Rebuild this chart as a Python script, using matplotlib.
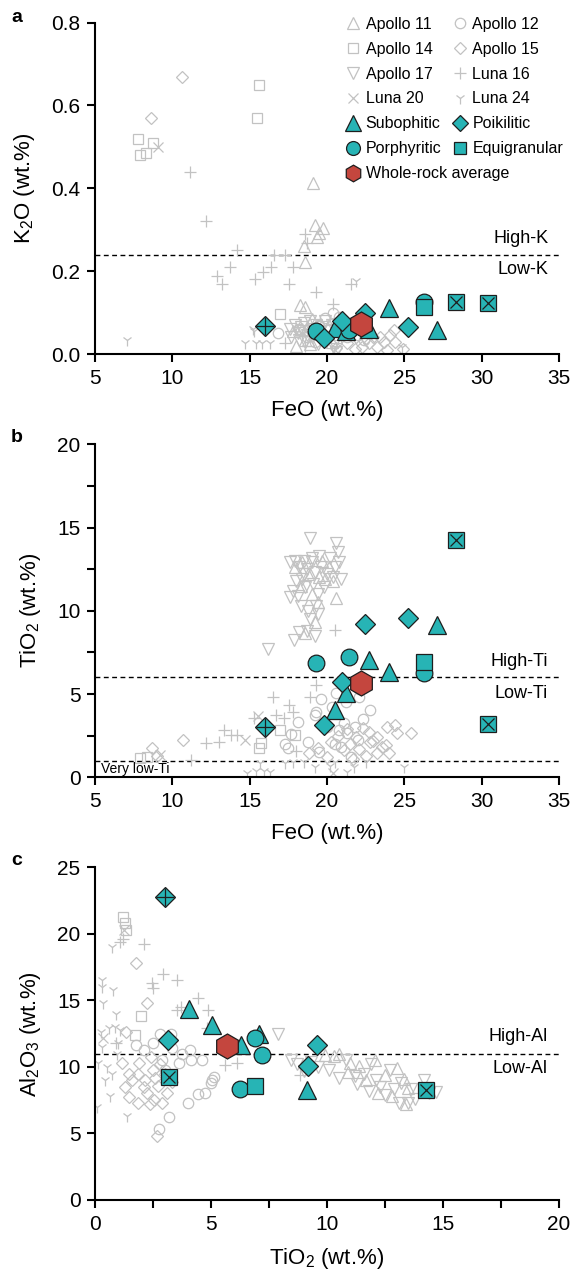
import matplotlib
matplotlib.use('Agg')
import matplotlib.pyplot as plt
from matplotlib.lines import Line2D
from matplotlib.ticker import MultipleLocator

plt.rcParams['font.family'] = ['Liberation Sans', 'DejaVu Sans']
plt.rcParams['mathtext.default'] = 'regular'

# ---------------- literature data (grey) ----------------
# panel a: FeO vs K2O
a_apollo11_feo = [19.1, 19.2, 19.45, 19.75, 19.35, 18.5, 18.6, 18.55, 18.25, 18.0, 18.8, 19.6, 20.1, 18.4, 19.0, 20.6, 17.8, 18.9, 19.3, 20.3]
a_apollo11_k2o = [0.412, 0.312, 0.292, 0.304, 0.282, 0.261, 0.223, 0.113, 0.118, 0.02, 0.035, 0.05, 0.07, 0.06, 0.085, 0.04, 0.055, 0.025, 0.065, 0.03]
a_apollo12_feo = [16.85, 20.4, 19.9, 20.2, 21.0, 21.6, 19.5, 18.7, 20.8, 22.0, 21.3, 19.2, 20.6, 22.4, 18.2]
a_apollo12_k2o = [0.05, 0.100, 0.088, 0.06, 0.072, 0.07, 0.07, 0.04, 0.09, 0.045, 0.04, 0.03, 0.03, 0.035, 0.06]
a_apollo14_feo = [7.75, 8.75, 7.92, 8.3, 15.6, 15.5, 16.95]
a_apollo14_k2o = [0.519, 0.51, 0.481, 0.485, 0.65, 0.569, 0.096]
a_apollo15_feo = [10.6, 8.65, 21.3, 21.9, 22.26, 22.7, 23.0, 23.2, 23.7, 23.9, 24.4, 24.3, 24.1, 22.5, 23.4, 24.9, 21.8, 20.6]
a_apollo15_k2o = [0.67, 0.57, 0.026, 0.042, 0.018, 0.026, 0.042, 0.018, 0.03, 0.01, 0.03, 0.058, 0.045, 0.038, 0.04, 0.012, 0.012, 0.015]
a_apollo17_feo = [17.6, 17.9, 18.1, 18.3, 18.5, 18.7, 18.9, 19.1, 19.3, 19.5, 19.7, 19.9, 20.1, 20.3, 18.2, 18.6, 19.0, 19.4, 19.8, 20.4, 17.7, 18.4, 20.0, 20.6]
a_apollo17_k2o = [0.06, 0.07, 0.05, 0.065, 0.075, 0.045, 0.08, 0.06, 0.07, 0.05, 0.065, 0.08, 0.055, 0.07, 0.035, 0.03, 0.04, 0.025, 0.035, 0.02, 0.04, 0.055, 0.04, 0.005]
a_luna16_feo = [11.13, 12.17, 12.88, 13.23, 13.73, 14.2, 15.35, 15.85, 16.4, 16.6, 17.3, 17.55, 17.8, 18.7, 18.6, 19.3, 20.4, 21.56, 17.3, 18.6]
a_luna16_k2o = [0.44, 0.32, 0.188, 0.169, 0.211, 0.251, 0.18, 0.199, 0.211, 0.239, 0.239, 0.169, 0.211, 0.269, 0.29, 0.15, 0.121, 0.169, 0.026, 0.02]
a_luna20_feo = [9.05, 20.5]
a_luna20_k2o = [0.50, 0.01]
a_luna24_feo = [7.05, 14.67, 15.42, 15.8, 16.3, 15.3, 21.9, 24.86, 15.2]
a_luna24_k2o = [0.035, 0.027, 0.027, 0.027, 0.027, 0.056, 0.177, 0.018, 0.06]

# panel b: FeO vs TiO2
b_apollo11_feo = [20.6, 18.6, 19.2, 19.4, 18.4, 19.7, 20.1, 18.8, 19.9, 19.0, 17.9, 18.3, 19.5, 20.4]
b_apollo11_tio2 = [10.75, 8.65, 9.3, 10.5, 12.9, 13.0, 12.6, 12.2, 11.9, 11.0, 12.6, 11.5, 12.0, 11.8]
b_apollo12_feo = [19.2, 19.6, 20.6, 22.1, 22.1, 22.8, 18.1, 17.5, 17.7, 20.8, 21.3, 21.1, 22.0, 21.55, 19.3, 20.3, 21.2, 20.0, 18.8, 21.8, 22.3, 20.5, 19.5, 17.3, 20.9]
b_apollo12_tio2 = [3.74, 4.68, 5.08, 5.29, 4.85, 4.04, 3.34, 1.74, 2.6, 2.84, 2.64, 3.24, 2.24, 1.2, 3.9, 4.2, 4.5, 3.0, 2.1, 3.0, 3.5, 2.0, 1.5, 2.0, 1.8]
b_apollo14_feo = [7.9, 8.35, 15.6, 15.7, 17.9, 16.96]
b_apollo14_tio2 = [1.14, 1.2, 1.74, 2.04, 2.54, 2.84]
b_apollo15_feo = [8.7, 10.66, 9.0, 18.84, 19.43, 20.26, 21.1, 21.9, 22.3, 22.7, 23.2, 23.56, 23.2, 24.0, 23.9, 24.4, 24.5, 25.4, 23.8, 20.7, 21.5, 22.1, 22.8, 20.0, 21.7, 22.5, 23.0, 21.3]
b_apollo15_tio2 = [1.74, 2.24, 1.3, 1.44, 1.74, 2.14, 1.64, 2.44, 2.94, 2.74, 2.44, 1.84, 1.44, 1.44, 3.04, 3.14, 2.64, 2.64, 1.94, 2.5, 2.0, 1.7, 2.1, 1.2, 1.1, 1.3, 2.2, 2.9]
b_apollo17_feo = [18.9, 20.57, 20.7, 20.8, 20.2, 19.5, 19.0, 18.5, 17.9, 17.6, 18.2, 18.7, 19.2, 19.6, 20.0, 20.4, 20.9, 18.0, 18.4, 17.8, 18.1, 18.6, 19.1, 19.4, 19.8, 17.6, 18.3, 18.8, 19.3, 18.9, 19.4, 18.7, 18.2, 19.2, 17.85, 16.2, 19.0, 20.5, 18.5]
b_apollo17_tio2 = [14.4, 14.1, 13.55, 12.9, 13.2, 13.3, 13.2, 13.0, 13.0, 12.9, 12.6, 12.5, 12.3, 12.6, 12.2, 12.0, 11.9, 11.8, 11.9, 11.2, 10.9, 11.4, 11.6, 11.0, 11.4, 10.8, 10.3, 10.0, 10.3, 9.5, 9.8, 8.8, 8.7, 8.5, 8.25, 7.7, 12.9, 12.6, 12.2]
b_luna16_feo = [11.18, 12.19, 13.0, 13.35, 13.8, 14.2, 15.26, 16.5, 16.7, 17.55, 17.8, 18.9, 19.3, 20.5, 17.2, 18.0]
b_luna16_tio2 = [1.04, 2.04, 2.14, 2.84, 2.54, 2.54, 3.54, 4.8, 3.74, 4.34, 3.94, 4.84, 5.55, 8.85, 3.54, 1.6]
b_luna20_feo = [14.7, 15.54, 9.17, 20.4]
b_luna20_tio2 = [2.24, 3.68, 1.34, 0.24]
b_luna24_feo = [14.83, 15.4, 15.9, 15.66, 17.3, 17.8, 19.2, 20.5, 21.75, 22.5, 24.97, 16.3, 18.5, 21.3, 20.2]
b_luna24_tio2 = [0.24, 0.4, 0.4, 0.88, 0.84, 0.94, 0.64, 0.94, 0.64, 0.94, 0.6, 0.3, 0.9, 0.3, 0.7]

# panel c: TiO2 vs Al2O3
c_apollo11_tio2 = [10.5, 10.3, 11.0, 11.4, 12.07, 12.5, 13.0, 13.3, 11.7, 12.2, 10.9, 13.5, 12.8, 13.4, 9.9]
c_apollo11_al2o3 = [11.0, 10.8, 10.3, 10.1, 10.5, 9.4, 9.9, 9.1, 9.0, 8.0, 9.6, 8.4, 7.8, 7.2, 10.9]
c_apollo12_tio2 = [2.8, 3.27, 3.74, 4.13, 4.6, 5.15, 4.76, 4.45, 4.02, 3.19, 2.75, 1.78, 2.09, 5.03, 3.6, 2.9, 3.3, 2.5, 4.1, 3.0, 5.0]
c_apollo12_al2o3 = [12.5, 12.5, 11.0, 10.5, 10.5, 9.27, 8.0, 7.97, 7.26, 6.2, 5.3, 11.65, 11.27, 9.0, 10.3, 10.5, 11.4, 11.8, 11.3, 9.8, 8.8]
c_apollo14_tio2 = [1.22, 1.3, 1.35, 2.0, 1.73]
c_apollo14_al2o3 = [21.3, 20.8, 20.3, 13.8, 12.4]
c_apollo15_tio2 = [1.78, 2.25, 1.35, 1.15, 1.46, 1.3, 1.85, 2.17, 2.48, 2.25, 2.56, 2.67, 1.85, 1.46, 2.4, 3.03, 3.1, 2.7, 1.9, 2.8, 2.1, 2.6, 1.6, 3.3, 2.35, 2.9]
c_apollo15_al2o3 = [17.8, 14.78, 12.65, 10.27, 9.5, 8.5, 9.5, 9.0, 9.77, 8.0, 7.5, 4.8, 7.26, 7.77, 10.77, 9.5, 8.0, 8.6, 10.3, 10.2, 8.5, 9.2, 9.0, 8.9, 7.2, 7.3]
c_apollo17_tio2 = [7.9, 8.45, 8.7, 9.0, 9.6, 10.1, 10.8, 11.2, 11.6, 12.1, 12.7, 13.2, 13.1, 13.5, 13.8, 14.4, 14.2, 12.3, 11.8, 11.3, 12.9, 13.6, 10.5, 11.9, 14.7, 12.5, 9.3]
c_apollo17_al2o3 = [12.5, 10.5, 10.2, 9.7, 10.0, 9.77, 10.5, 9.3, 9.5, 9.0, 9.77, 8.77, 7.3, 7.26, 7.6, 8.0, 9.0, 8.5, 8.2, 8.7, 8.3, 8.3, 9.2, 10.2, 8.1, 7.9, 10.4]
c_luna16_tio2 = [1.07, 2.09, 2.92, 3.52, 2.45, 2.5, 4.45, 4.87, 3.53, 3.7, 4.84, 5.62, 8.85, 1.2, 0.9, 6.1]
c_luna16_al2o3 = [19.4, 19.2, 17.0, 16.5, 16.3, 15.9, 15.2, 14.3, 14.3, 14.5, 12.9, 10.15, 9.4, 19.6, 11.8, 10.3]
c_luna20_tio2 = [1.26, 0.35]
c_luna20_al2o3 = [20.3, 12.2]
c_luna24_tio2 = [0.75, 0.28, 0.31, 0.36, 0.79, 0.91, 0.88, 1.07, 0.6, 0.25, 0.09, 1.38, 0.63, 0.75, 0.52, 0.3, 0.45, 0.15, 0.95, 1.0]
c_luna24_al2o3 = [19.0, 16.5, 16.0, 14.8, 15.8, 14.0, 13.0, 12.8, 12.9, 12.6, 7.0, 6.3, 7.8, 9.5, 10.0, 11.5, 9.0, 10.3, 11.0, 11.8]

# ---------------- this study (per sample) ----------------
sub_feo = [20.5, 21.2, 22.7, 24.0, 27.1]
sub_k2o = [0.062, 0.056, 0.061, 0.112, 0.058]
sub_tio2 = [4.05, 5.05, 7.05, 6.3, 9.15]
sub_al2o3 = [14.35, 13.15, 12.5, 11.65, 8.25]

poi_feo = [16.0, 19.8, 21.0, 22.45, 25.25]
poi_k2o = [0.068, 0.039, 0.080, 0.100, 0.066]
poi_tio2 = [3.0, 3.13, 5.7, 9.2, 9.57]
poi_al2o3 = [22.75, 12.0, 11.6, 10.07, 11.65]

por_feo = [19.3, 21.45, 26.25]
por_k2o = [0.055, 0.057, 0.126]
por_tio2 = [6.88, 7.2, 6.25]
por_al2o3 = [12.15, 10.9, 8.3]

equ_feo = [26.25, 28.35, 30.4]
equ_k2o = [0.114, 0.125, 0.122]
equ_tio2 = [6.9, 14.25, 3.2]
equ_al2o3 = [8.57, 8.27, 9.22]

wr_feo = [22.2]
wr_k2o = [0.073]
wr_tio2 = [5.67]
wr_al2o3 = [11.6]

# samples that also carry a Luna-style symbol
poi_plus = [0]
equ_cross = [1, 2]

GRAY = '#c2c2c2'
TEAL = '#27b4b5'
RED = '#c4463e'
EDGE = '#1e1e1e'

mission_style = [('Apollo 11', '^', 8), ('Apollo 12', 'o', 7.5), ('Apollo 14', 's', 7),
                 ('Apollo 15', 'D', 6), ('Apollo 17', 'v', 8), ('Luna 16', '+', 8.5),
                 ('Luna 20', 'x', 7), ('Luna 24', '1', 8)]


def draw(ax, grays, sub, poi, por, equ, wr):
    for (x, y), (lab, mk, ms) in zip(grays, mission_style):
        ax.plot(x, y, ls='none', marker=mk, ms=ms, mfc='none', mec=GRAY, mew=0.9, zorder=2)
    kw = dict(ls='none', mfc=TEAL, mec=EDGE, mew=0.9, zorder=5)
    ax.plot(sub[0], sub[1], marker='^', ms=13.5, **kw)
    ax.plot(por[0], por[1], marker='o', ms=12, **kw)
    ax.plot(poi[0], poi[1], marker='D', ms=10, **kw)
    ax.plot(equ[0], equ[1], marker='s', ms=11, **kw)
    ax.plot([poi[0][i] for i in poi_plus], [poi[1][i] for i in poi_plus], ls='none',
            marker='+', ms=12.5, mec=EDGE, mew=0.9, zorder=6)
    ax.plot([equ[0][i] for i in equ_cross], [equ[1][i] for i in equ_cross], ls='none',
            marker='x', ms=9, mec=EDGE, mew=0.9, zorder=6)
    ax.plot(wr[0], wr[1], ls='none', marker='h', ms=18, mfc=RED, mec=EDGE, mew=0.9, zorder=7)


def style(ax, letter, ypos):
    for s in ['top', 'right']:
        ax.spines[s].set_visible(False)
    for s in ['left', 'bottom']:
        ax.spines[s].set_linewidth(1.5)
    ax.tick_params(which='both', direction='out', length=5.5, width=1.5, labelsize=15, pad=5)
    ax.xaxis.labelpad = 9
    ax.yaxis.labelpad = 10
    fig.text(0.03, ypos, letter, fontsize=14, fontweight='bold', ha='center', va='center')


fig = plt.figure(figsize=(5.7, 12.73), dpi=100)
axa = fig.add_axes([0.1667, 0.7219, 0.8140, 0.2603])
axb = fig.add_axes([0.1667, 0.3894, 0.8140, 0.2616])
axc = fig.add_axes([0.1667, 0.0574, 0.8140, 0.2613])

dash = (0, (3.5, 2.5))

# ---- a ----
draw(axa,
     [(a_apollo11_feo, a_apollo11_k2o), (a_apollo12_feo, a_apollo12_k2o), (a_apollo14_feo, a_apollo14_k2o),
      (a_apollo15_feo, a_apollo15_k2o), (a_apollo17_feo, a_apollo17_k2o), (a_luna16_feo, a_luna16_k2o),
      (a_luna20_feo, a_luna20_k2o), (a_luna24_feo, a_luna24_k2o)],
     (sub_feo, sub_k2o), (poi_feo, poi_k2o), (por_feo, por_k2o), (equ_feo, equ_k2o), (wr_feo, wr_k2o))
axa.axhline(0.24, color='k', lw=1, ls=dash, zorder=1)
axa.text(34.3, 0.28, 'High-K', ha='right', va='center', fontsize=13)
axa.text(34.3, 0.205, 'Low-K', ha='right', va='center', fontsize=13)
axa.set_xlim(5, 35)
axa.set_ylim(0, 0.8)
axa.xaxis.set_major_locator(MultipleLocator(5))
axa.yaxis.set_major_locator(MultipleLocator(0.2))
axa.set_xlabel('FeO (wt.%)', fontsize=16)
axa.set_ylabel('K$_2$O (wt.%)', fontsize=16)
style(axa, 'a', 0.9866)

# legend in two separate columns
def gh(mk, ms):
    return Line2D([], [], ls='none', marker=mk, ms=ms, mfc='none', mec=GRAY, mew=0.9)

def th(mk, ms, fc=TEAL):
    return Line2D([], [], ls='none', marker=mk, ms=ms, mfc=fc, mec=EDGE, mew=0.9)

ms_map = {lab: (mk, ms) for lab, mk, ms in mission_style}
col1 = [(gh(*ms_map['Apollo 11']), 'Apollo 11'), (gh(*ms_map['Apollo 14']), 'Apollo 14'),
        (gh(*ms_map['Apollo 17']), 'Apollo 17'), (gh(*ms_map['Luna 20']), 'Luna 20'),
        (th('^', 11), 'Subophitic'), (th('o', 10), 'Porphyritic'), (th('h', 12, RED), 'Whole-rock average')]
col2 = [(gh(*ms_map['Apollo 12']), 'Apollo 12'), (gh(*ms_map['Apollo 15']), 'Apollo 15'),
        (gh(*ms_map['Luna 16']), 'Luna 16'), (gh(*ms_map['Luna 24']), 'Luna 24'),
        (th('D', 8), 'Poikilitic'), (th('s', 9), 'Equigranular')]
lkw = dict(loc='upper left', frameon=False, fontsize=11.5, handlelength=0.8, handletextpad=0.4,
           labelspacing=0.62, borderpad=0, borderaxespad=0)
leg1 = axa.legend([h for h, _ in col1], [l for _, l in col1], bbox_to_anchor=(0.542, 1.018), **lkw)
axa.add_artist(leg1)
axa.legend([h for h, _ in col2], [l for _, l in col2], bbox_to_anchor=(0.772, 1.018), **lkw)

# ---- b ----
draw(axb,
     [(b_apollo11_feo, b_apollo11_tio2), (b_apollo12_feo, b_apollo12_tio2), (b_apollo14_feo, b_apollo14_tio2),
      (b_apollo15_feo, b_apollo15_tio2), (b_apollo17_feo, b_apollo17_tio2), (b_luna16_feo, b_luna16_tio2),
      (b_luna20_feo, b_luna20_tio2), (b_luna24_feo, b_luna24_tio2)],
     (sub_feo, sub_tio2), (poi_feo, poi_tio2), (por_feo, por_tio2), (equ_feo, equ_tio2), (wr_feo, wr_tio2))
axb.axhline(6, color='k', lw=1, ls=dash, zorder=1)
axb.axhline(1, color='k', lw=1, ls=dash, zorder=1)
axb.text(34.3, 6.95, 'High-Ti', ha='right', va='center', fontsize=13)
axb.text(34.3, 5.05, 'Low-Ti', ha='right', va='center', fontsize=13)
axb.text(5.4, 0.5, 'Very low-Ti', ha='left', va='center', fontsize=10)
axb.set_xlim(5, 35)
axb.set_ylim(0, 20)
axb.xaxis.set_major_locator(MultipleLocator(5))
axb.yaxis.set_major_locator(MultipleLocator(5))
axb.yaxis.set_minor_locator(MultipleLocator(2.5))
axb.set_xlabel('FeO (wt.%)', fontsize=16)
axb.set_ylabel('TiO$_2$ (wt.%)', fontsize=16)
style(axb, 'b', 0.6567)

# ---- c ----
draw(axc,
     [(c_apollo11_tio2, c_apollo11_al2o3), (c_apollo12_tio2, c_apollo12_al2o3), (c_apollo14_tio2, c_apollo14_al2o3),
      (c_apollo15_tio2, c_apollo15_al2o3), (c_apollo17_tio2, c_apollo17_al2o3), (c_luna16_tio2, c_luna16_al2o3),
      (c_luna20_tio2, c_luna20_al2o3), (c_luna24_tio2, c_luna24_al2o3)],
     (sub_tio2, sub_al2o3), (poi_tio2, poi_al2o3), (por_tio2, por_al2o3), (equ_tio2, equ_al2o3), (wr_tio2, wr_al2o3))
axc.axhline(11, color='k', lw=1, ls=dash, zorder=1)
axc.text(19.5, 12.25, 'High-Al', ha='right', va='center', fontsize=13)
axc.text(19.5, 9.9, 'Low-Al', ha='right', va='center', fontsize=13)
axc.set_xlim(0, 20)
axc.set_ylim(0, 25)
axc.xaxis.set_major_locator(MultipleLocator(5))
axc.xaxis.set_minor_locator(MultipleLocator(2.5))
axc.yaxis.set_major_locator(MultipleLocator(5))
axc.set_xlabel('TiO$_2$ (wt.%)', fontsize=16)
axc.set_ylabel('Al$_2$O$_3$ (wt.%)', fontsize=16)
style(axc, 'c', 0.3244)

fig.savefig('out.png', dpi=100)
